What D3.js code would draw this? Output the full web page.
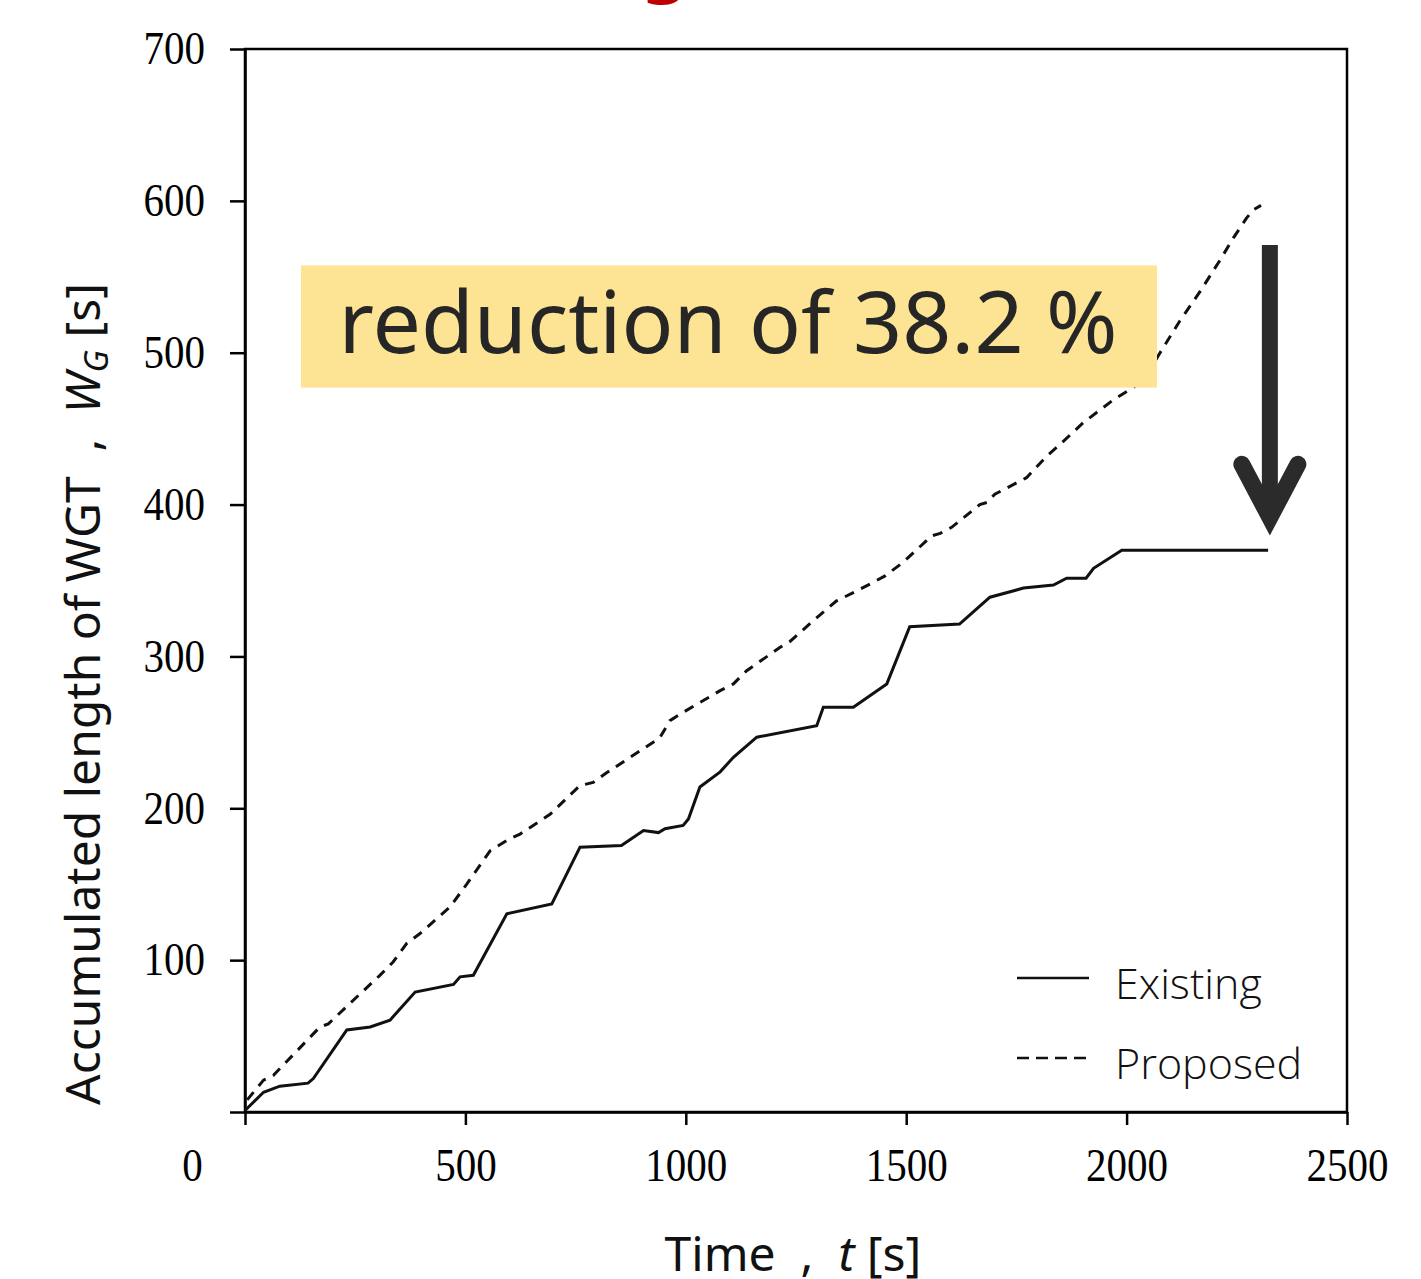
<!DOCTYPE html>
<html>
<head>
<meta charset="utf-8">
<script src="https://cdn.jsdelivr.net/npm/d3@7"></script>
<style>
  body { margin: 0; background: #fff; }
  svg { display: block; }
</style>
</head>
<body>
<svg id="svg" width="1421" height="1279"></svg>
<script>
// existing signal control (solid)
var existingT = [0, 42, 79, 143, 155, 231, 284, 329, 386, 473, 488, 518, 594, 696, 760, 854, 904, 938, 953, 994, 1006, 1032, 1078, 1108, 1161, 1297, 1312, 1380, 1456, 1508, 1621, 1690, 1766, 1834, 1864, 1908, 1925, 1989, 2321];
var existingW = [1, 13, 17, 19, 22, 54, 56, 60.5, 79, 84, 89, 90, 130.5, 137, 174.4, 175.5, 185.4, 184, 186.5, 188.7, 193, 214, 224, 233.6, 246.8, 254.4, 266.5, 266.5, 281.9, 319.5, 321.3, 339, 345, 347, 351.5, 351.5, 358, 370, 370];
// proposed (dashed)
var proposedT = [5, 42, 64, 170, 189, 238, 306, 336, 367, 397, 465, 503, 556, 601, 624, 692, 749, 760, 790, 817, 941, 964, 987, 1078, 1108, 1138, 1214, 1237, 1289, 1342, 1380, 1420, 1452, 1493, 1558, 1577, 1603, 1667, 1683, 1701, 1773, 1819, 1849, 1902, 1970, 2015, 2040, 2076, 2121, 2166, 2212, 2242, 2272, 2287, 2305];
var proposedW = [8, 21, 24, 56, 58, 71.5, 90, 98.8, 111, 117.5, 135, 150, 172, 180, 183, 196, 212, 215, 217, 222.7, 246.4, 257.7, 262, 277.5, 281.9, 290.6, 306, 310, 323.5, 336.6, 342, 348, 353, 362, 379.4, 381, 385, 400, 401.4, 406.8, 417.7, 432, 439.6, 454, 469, 477, 483, 500, 521, 540, 561, 575.5, 588.6, 594, 597];

var xTicks = [0, 500, 1000, 1500, 2000, 2500];
var yTicks = [0, 100, 200, 300, 400, 500, 600, 700];
var legendNames = ["Existing", "Proposed"];
var noteText = "reduction of 38.2 %";
// annotation box [t0, t1] x [w0, w1], arrow at t from w0 down to w1
var noteBox = [127, 2069, 477, 557.5];
var arrowAt = [2325, 571, 385];

var svg = d3.select("#svg");
var x = d3.scaleLinear().domain([0, 2500]).range([245, 1347]);
var y = d3.scaleLinear().domain([0, 700]).range([1112, 49]);

// cut off red title at the very top
svg.append("text")
    .attr("x", 642).attr("y", -12)
    .attr("font-family", "Noto Sans").attr("font-weight", "bold")
    .attr("font-size", 72).attr("fill", "#c00000")
    .text("g");

// frame
svg.append("rect")
    .attr("x", x(0)).attr("y", y(700))
    .attr("width", x(2500) - x(0)).attr("height", y(0) - y(700))
    .attr("fill", "none").attr("stroke", "#000").attr("stroke-width", 2.5);

var serif = "Liberation Serif, Times New Roman, serif";

var xAxis = svg.append("g")
    .attr("transform", "translate(0," + y(0) + ")")
    .call(d3.axisBottom(x).tickValues(xTicks).tickFormat(d3.format("d")).tickSize(13).tickSizeOuter(0));
xAxis.select(".domain").attr("stroke-width", 2.5);
xAxis.selectAll(".tick line").attr("stroke-width", 2.5);
xAxis.selectAll(".tick text")
    .attr("y", 69).attr("dy", 0)
    .attr("font-family", serif).attr("font-size", 46).attr("fill", "#000")
    .attr("textLength", function(d) { return String(d).length * 20.5; })
    .attr("lengthAdjust", "spacingAndGlyphs")
    .attr("x", function(d) { return d === 0 ? -53 : 0; });

var yAxis = svg.append("g")
    .attr("transform", "translate(" + x(0) + ",0)")
    .call(d3.axisLeft(y).tickValues(yTicks).tickFormat(d3.format("d")).tickSize(15).tickSizeOuter(0).tickPadding(25));
yAxis.select(".domain").attr("stroke-width", 2.5);
yAxis.selectAll(".tick line").attr("stroke-width", 2.5);
yAxis.selectAll(".tick text")
    .attr("font-family", serif).attr("font-size", 46).attr("fill", "#000")
    .attr("textLength", function(d) { return String(d).length * 20.5; })
    .attr("lengthAdjust", "spacingAndGlyphs")
    .text(function(d) { return d === 0 ? "" : d; });

// lines
var line = d3.line().x(function(d) { return x(d[0]); }).y(function(d) { return y(d[1]); });
var existing = existingT.map(function(t, i) { return [t, existingW[i]]; });
var proposed = proposedT.map(function(t, i) { return [t, proposedW[i]]; });

svg.append("path").datum(proposed)
    .attr("d", line).attr("fill", "none")
    .attr("stroke", "#111").attr("stroke-width", 3)
    .attr("stroke-dasharray", "10,8");
svg.append("path").datum(existing)
    .attr("d", line).attr("fill", "none")
    .attr("stroke", "#111").attr("stroke-width", 3);

// note box
svg.append("rect")
    .attr("x", x(noteBox[0])).attr("y", y(noteBox[3]))
    .attr("width", x(noteBox[1]) - x(noteBox[0]))
    .attr("height", y(noteBox[2]) - y(noteBox[3]))
    .attr("fill", "#fde394");
svg.append("text")
    .attr("x", (x(noteBox[0]) + x(noteBox[1])) / 2 - 1)
    .attr("y", 353)
    .attr("text-anchor", "middle")
    .attr("font-family", "Noto Sans").attr("font-size", 86)
    .attr("fill", "#262626")
    .text(noteText);

// arrow
var ax = x(arrowAt[0]);
svg.append("line")
    .attr("x1", ax).attr("x2", ax)
    .attr("y1", y(arrowAt[1])).attr("y2", y(arrowAt[2]) - 12)
    .attr("stroke", "#2b2b2b").attr("stroke-width", 16);
svg.append("path")
    .attr("d", "M" + (ax - 28) + "," + (y(arrowAt[2]) - 63) + "L" + ax + "," + (y(arrowAt[2]) - 10) + "L" + (ax + 28) + "," + (y(arrowAt[2]) - 63))
    .attr("fill", "none").attr("stroke", "#2b2b2b").attr("stroke-width", 17)
    .attr("stroke-linecap", "round").attr("stroke-linejoin", "miter");

// legend
var leg = svg.append("g").attr("transform", "translate(1017,978)");
legendNames.forEach(function(name, i) {
    leg.append("line")
        .attr("x1", 0).attr("x2", 72).attr("y1", i * 80).attr("y2", i * 80)
        .attr("stroke", "#111").attr("stroke-width", 2.4)
        .attr("stroke-dasharray", i === 1 ? "12,7" : null);
    leg.append("text")
        .attr("x", 98).attr("y", i * 80 + 21)
        .attr("font-family", "Open Sans").attr("font-weight", 300)
        .attr("font-size", 43).attr("fill", "#111")
        .text(name);
});

// axis titles
var xl = svg.append("text")
    .attr("x", 793).attr("y", 1271)
    .attr("text-anchor", "middle")
    .attr("font-family", "Noto Sans").attr("font-size", 48).attr("fill", "#111")
    .attr("xml:space", "preserve");
xl.append("tspan").text("Time  ,  ");
xl.append("tspan").attr("font-style", "italic").text("t");
xl.append("tspan").text(" [s]");

var yl = svg.append("text")
    .attr("transform", "translate(100,694) rotate(-90)")
    .attr("text-anchor", "middle")
    .attr("font-family", "Noto Sans").attr("font-size", 48).attr("fill", "#111")
    .attr("xml:space", "preserve");
yl.append("tspan").text("Accumulated length of WGT  ,  ");
yl.append("tspan").attr("font-style", "italic").text("W");
yl.append("tspan").attr("font-style", "italic").attr("font-size", 33).attr("dy", 8).text("G");
yl.append("tspan").attr("dy", -8).text(" [s]");
</script>
</body>
</html>
